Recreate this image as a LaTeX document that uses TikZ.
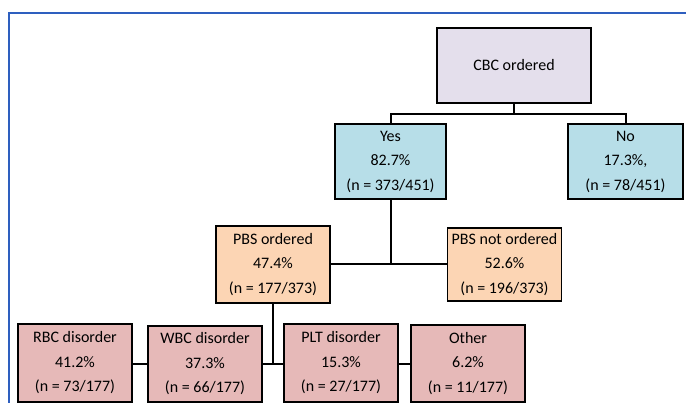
\documentclass[tikz,border=0pt]{standalone}
\usepackage{fontspec}
\setmainfont{Carlito}
\definecolor{cbcfill}{HTML}{E4DFEC}
\definecolor{yesfill}{HTML}{B7DEE8}
\definecolor{pbsfill}{HTML}{FCD5B4}
\definecolor{disfill}{HTML}{E6B9B8}
\definecolor{framecol}{HTML}{2E5FBF}
\tikzset{
  box/.style={draw=black, line width=1.9pt, align=center, inner sep=0pt,
    font=\fontsize{16}{24.5}\selectfont},
  conn/.style={draw=black, line width=2pt},
}
\begin{document}
\begin{tikzpicture}[x=1pt,y=-1pt]
\useasboundingbox (0,0) rectangle (686,403);
\fill[white] (0,0) rectangle (686,403);
\draw[framecol, line width=2.2pt] (9,404) -- (9,13) -- (687,13);
% nodes
\node[box, fill=cbcfill, minimum width=154pt, minimum height=75pt] (cbc) at (514,65.5) {CBC ordered};
\node[box, fill=yesfill, minimum width=111pt, minimum height=75pt] (yes) at (390.5,161.5) {Yes\\82.7\%\\(n = 373/451)};
\node[box, fill=yesfill, minimum width=115pt, minimum height=75pt] (no) at (625.5,161.5) {No\\17.3\%,\\(n = 78/451)};
\node[box, fill=pbsfill, minimum width=114pt, minimum height=77pt] (pbs) at (273,264.5) {PBS ordered\\47.4\%\\(n = 177/373)};
\node[box, fill=pbsfill, minimum width=114pt, minimum height=73pt] (npbs) at (504.5,264.5) {PBS not ordered\\52.6\%\\(n = 196/373)};
\node[box, fill=disfill, minimum width=114pt, minimum height=78pt] (rbc) at (75,363) {RBC disorder\\41.2\%\\(n = 73/177)};
\node[box, fill=disfill, minimum width=114pt, minimum height=76pt] (wbc) at (205,364) {WBC disorder\\37.3\%\\(n = 66/177)};
\node[box, fill=disfill, minimum width=114pt, minimum height=78pt] (plt) at (341,363) {PLT disorder\\15.3\%\\(n = 27/177)};
\node[box, fill=disfill, minimum width=114pt, minimum height=77pt] (oth) at (468,363.5) {Other\\6.2\%\\(n = 11/177)};
% connectors
\coordinate (t1) at (514,114);
\draw[conn] (cbc.south) -- (t1);
\draw[conn] (yes.north) |- (t1) -| (no.north);
\coordinate (t2) at (390.5,264.5);
\draw[conn] (yes.south) -- (t2);
\draw[conn] (pbs.east) -- (npbs.west);
\coordinate (t3) at (273,364.5);
\draw[conn] (pbs.south) -- (t3);
\draw[conn] (wbc.east |- t3) -- (plt.west |- t3);
\draw[conn] (rbc.east |- t3) -- (wbc.west |- t3);
\draw[conn] (plt.east |- t3) -- (oth.west |- t3);
\end{tikzpicture}
\end{document}
